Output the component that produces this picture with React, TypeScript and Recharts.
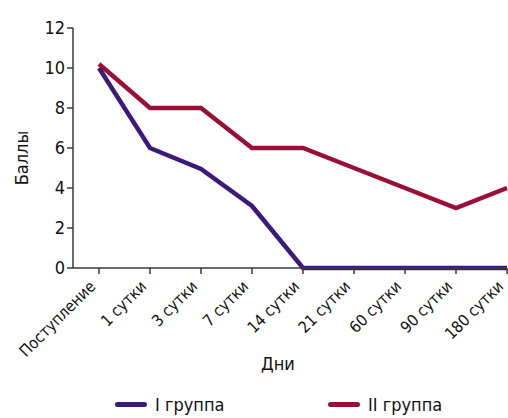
import React from 'react';
import { LineChart, Line, XAxis, YAxis, Legend } from 'recharts';

const days = ['Поступление', '1 сутки', '3 сутки', '7 сутки', '14 сутки', '21 сутки', '60 сутки', '90 сутки', '180 сутки'];
const group1 = [10, 6, 4.95, 3.1, 0, 0, 0, 0, 0];
const group2 = [10.2, 8, 8, 6, 6, 5, 4, 3, 4];
const yTicks = [0, 2, 4, 6, 8, 10, 12];

const FONT = '"DejaVu Sans Condensed", "Liberation Sans", Arial, sans-serif';
const AXIS = '#3a3a3a';

const data = days.map((d, i) => ({ day: d, g1: group1[i], g2: group2[i] }));

function DayTick({ x, y, payload }: any) {
  return (
    <g transform={`translate(${x - 6},${y + 8})`}>
      <text
        textAnchor="end"
        transform="rotate(-45)"
        fontFamily={FONT}
        fontSize={16}
        fill="#111"
        dy="0.3em"
      >
        {payload.value}
      </text>
    </g>
  );
}

function LegendBox({ payload }: any) {
  return (
    <div style={{ position: 'relative', height: 26, fontFamily: FONT, fontSize: 18, color: '#111' }}>
      {(payload || []).map((p: any, i: number) => (
        <div
          key={p.value}
          style={{ position: 'absolute', left: i === 0 ? 115 : 328, top: 2, display: 'flex', alignItems: 'center' }}
        >
          <span style={{ width: 32, height: 5, borderRadius: 3, background: p.color, display: 'inline-block', marginRight: 8 }} />
          <span>{p.value}</span>
        </div>
      ))}
    </div>
  );
}

export default function App() {
  return (
    <div style={{ position: 'absolute', left: 0, top: 0, width: 508, height: 418, background: '#fff' }}>
      <LineChart width={508} height={418} data={data} margin={{ top: 28, right: 1, bottom: 0, left: 0 }}>
        <XAxis
          dataKey="day"
          interval={0}
          padding={{ left: 26, right: 0 }}
          stroke={AXIS}
          strokeWidth={1.5}
          tickSize={6}
          tick={<DayTick />}
          height={124}
          label={{ value: 'Дни', position: 'insideBottom', offset: 22, dx: -12, fontFamily: FONT, fontSize: 18, fill: '#111' }}
        />
        <YAxis
          domain={[0, 12]}
          ticks={yTicks}
          width={73}
          stroke={AXIS}
          strokeWidth={1.5}
          tickSize={6}
          tick={{ fontFamily: FONT, fontSize: 18, fill: '#111' }}
          label={{ value: 'Баллы', angle: -90, position: 'insideLeft', offset: 22, dy: 10, fontFamily: FONT, fontSize: 18, fill: '#111', style: { textAnchor: 'middle' } }}
        />
        <Legend verticalAlign="bottom" height={26} content={<LegendBox />} />
        <Line name="I группа" dataKey="g1" stroke="#3c1a7c" strokeWidth={4.5} dot={false} isAnimationActive={false} />
        <Line name="II группа" dataKey="g2" stroke="#9a1034" strokeWidth={4.5} dot={false} isAnimationActive={false} />
      </LineChart>
    </div>
  );
}
